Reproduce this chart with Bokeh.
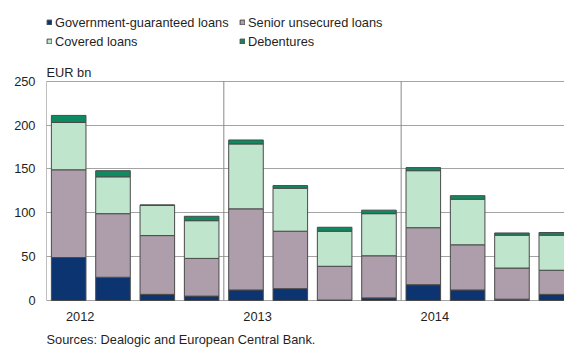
from bokeh.plotting import figure
from bokeh.models import (Range1d, FixedTicker, Legend, LegendItem, Label,
                          ColumnDataSource)
from bokeh.core.properties import value
from bokeh.embed import file_html
from bokeh.resources import INLINE

# Quarterly bank bond issuance by type, EUR bn
quarters = ["2012 Q1", "2012 Q2", "2012 Q3", "2012 Q4",
            "2013 Q1", "2013 Q2", "2013 Q3", "2013 Q4",
            "2014 Q1", "2014 Q2", "2014 Q3", "2014 Q4"]
gov_guaranteed = [49, 26.5, 7, 5, 12, 13.5, 0.5, 3, 18, 12, 1.5, 7]
senior_unsecured = [100, 72.5, 67, 43, 92.5, 65.5, 38.5, 48, 65, 51.5, 35.5, 27.5]
covered = [54, 42, 34.5, 43, 74, 49, 40, 48, 65, 52, 37.5, 40]
debentures = [8, 7, 0.5, 5, 4.5, 3, 4.5, 4, 3.5, 4, 2.5, 3]

series_names = ["Government-guaranteed loans", "Senior unsecured loans",
                "Covered loans", "Debentures"]
series_colors = ["#0b3470", "#ae9eab", "#bfe6cc", "#0d8a60"]

year_labels = ["2012", "2013", "2014"]
year_label_pos = [0.76, 4.76, 8.76]
year_bounds = [0, 4, 8]
y_ticks = [0, 50, 100, 150, 200, 250]

FONT = "Liberation Sans"
FSIZE = "12.8px"
TXT = "#1f1f1f"

pos = [i + 0.5 for i in range(len(quarters))]
source = ColumnDataSource(dict(x=pos, gov=gov_guaranteed, senior=senior_unsecured,
                               cov=covered, deb=debentures))

# the frame covers the whole canvas height, so the legend, unit label,
# year labels and source note are all drawn inside it
p = figure(width=564, height=347, output_backend="svg", toolbar_location=None,
           x_range=Range1d(0, 11.685), y_range=Range1d(-53.57, 342),
           min_border_left=46, min_border_right=0, min_border_top=0,
           min_border_bottom=0)
p.outline_line_color = None
p.background_fill_color = "white"
p.border_fill_color = "white"

# horizontal gridlines only at the value ticks
p.ygrid.ticker = FixedTicker(ticks=y_ticks)
p.ygrid.grid_line_color = "#a3a3a3"
p.xgrid.grid_line_color = None

# left axis line and year separators, spanning 0..top tick
top = max(y_ticks)
p.segment(x0=year_bounds, y0=[0] * len(year_bounds), x1=year_bounds,
          y1=[top] * len(year_bounds),
          line_color=["#808080"] + ["#8a8a8a"] * (len(year_bounds) - 1), line_width=1)

rs = p.vbar_stack(["gov", "senior", "cov", "deb"], x="x", width=0.78,
                  fill_color=series_colors, line_color="#4a4a4a", line_width=1,
                  source=source)

# value axis
p.yaxis.ticker = FixedTicker(ticks=y_ticks)
p.yaxis.major_tick_line_color = None
p.yaxis.minor_tick_line_color = None
p.yaxis.major_tick_out = 0
p.yaxis.minor_tick_out = 0
p.yaxis.major_label_standoff = 11
p.yaxis.axis_line_color = None
p.yaxis.major_label_text_font = FONT
p.yaxis.major_label_text_font_size = FSIZE
p.yaxis.major_label_text_color = TXT

p.xaxis.visible = False

# year labels under the bars
p.text(x=year_label_pos, y=[-18.2] * len(year_labels), text=year_labels,
       text_align="center", text_baseline="middle",
       text_font=value(FONT), text_font_size=FSIZE, text_color=TXT)

# legend in two columns
def make_legend(idx, loc):
    return Legend(items=[LegendItem(label=series_names[i], renderers=[rs[i]]) for i in idx],
                  location=loc, orientation="vertical",
                  glyph_width=6, glyph_height=6, label_standoff=3,
                  label_height=18, spacing=1, padding=0, margin=0,
                  border_line_color=None, background_fill_alpha=0,
                  label_text_font=FONT, label_text_font_size=FSIZE,
                  label_text_color=TXT)

p.add_layout(make_legend([0, 2], (0, 297)))
p.add_layout(make_legend([1, 3], (193, 297)))

p.add_layout(Label(x=0, y=260, text="EUR bn", text_baseline="middle",
                   text_font=FONT, text_font_size=FSIZE, text_color=TXT))
p.add_layout(Label(x=0, y=-44.5, text="Sources: Dealogic and European Central Bank.",
                   text_baseline="middle", text_font=FONT, text_font_size=FSIZE,
                   text_color=TXT))

open("out.html", "w").write(file_html(p, INLINE))
